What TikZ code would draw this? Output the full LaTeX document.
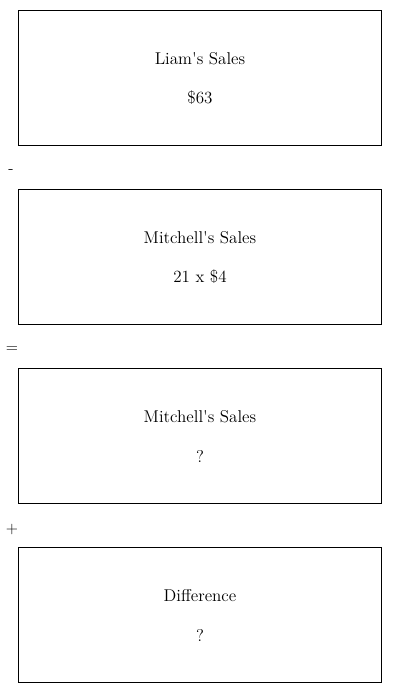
\documentclass[tikz,border=0pt]{standalone}
\usepackage{textcomp}
\begin{document}
\begin{tikzpicture}[x=0.75pt,y=-0.75pt,
  box/.style={draw=black,line width=0.75pt,minimum width=363*0.75pt,minimum height=135*0.75pt,inner sep=0pt,anchor=north west},
  txt/.style={font=\fontsize{12.8}{14}\selectfont,inner sep=0pt},
  op/.style={font=\fontsize{12}{14}\selectfont,inner sep=0pt}]
\useasboundingbox (0,0) rectangle (400,693);
\node[box] (b1) at (18,10) {};
\node[box] (b2) at (18,189) {};
\node[box] (b3) at (18,368) {};
\node[box] (b4) at (18,547) {};
\node[txt] (t1) at (200,59) {Liam\textquotesingle s Sales};
\node[txt] (v1) at (200,98) {\$63};
\node[txt] (t2) at (200,238) {Mitchell\textquotesingle s Sales};
\node[txt] (v2) at (200,277) {21 x \$4};
\node[txt] (t3) at (200,417) {Mitchell\textquotesingle s Sales};
\node[txt] (v3) at (200,456) {?};
\node[txt] (t4) at (200,596) {Difference};
\node[txt] (v4) at (200,635) {?};
\node[op] (o1) at (11,172) {-};
\node[op] (o2) at (12,350) {=};
\node[op] (o3) at (12,529) {+};
\end{tikzpicture}
\end{document}
